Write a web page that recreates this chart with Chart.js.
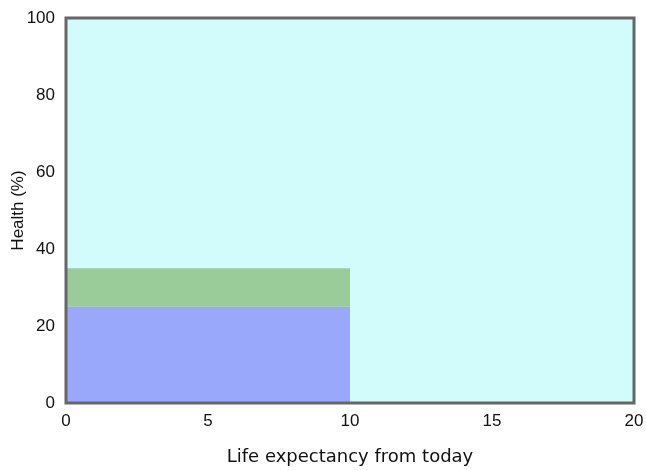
<!DOCTYPE html>
<html>
<head>
<meta charset="utf-8">
<script src="https://cdn.jsdelivr.net/npm/chart.js@4/dist/chart.umd.min.js"></script>
<style>
  html, body { margin: 0; padding: 0; background: #fff; }
  #wrap { width: 646px; height: 470px; }
</style>
</head>
<body>
<div id="wrap"><canvas id="myChart"></canvas></div>
<script>
// band edges along x (years), and health levels (%)
const xEdges = [0, 10];
const baseHealth = [25, 25];
const topHealth = [35, 35];
const xTicks = [0, 5, 10, 15, 20];
const yTicks = [0, 20, 40, 60, 80, 100];

function toPoints(xs, ys) {
  return xs.map((x, i) => ({ x: x, y: ys[i] }));
}

// paints the plot background and the box round it
const plotBox = {
  id: "plotBox",
  beforeDraw(chart) {
    const a = chart.chartArea;
    const c = chart.ctx;
    c.save();
    c.fillStyle = "#d2fcfc";
    c.fillRect(a.left, a.top, a.right - a.left, a.bottom - a.top);
    c.restore();
  },
  afterDraw(chart) {
    const a = chart.chartArea;
    const c = chart.ctx;
    c.save();
    c.strokeStyle = "#666666";
    c.lineWidth = 3;
    c.strokeRect(a.left, a.top, a.right - a.left, a.bottom - a.top);
    c.restore();
  },
};

let ctx = document.getElementById("myChart").getContext("2d");

let myChart = new Chart(ctx, {
  type: "line",
  data: {
    datasets: [
      {
        label: "base",
        data: toPoints(xEdges, baseHealth),
        backgroundColor: "#9aa8fb",
        borderWidth: 0,
        pointRadius: 0,
        fill: "origin",
      },
      {
        label: "top",
        data: toPoints(xEdges, topHealth),
        backgroundColor: "#99cc99",
        borderWidth: 0,
        pointRadius: 0,
        fill: "-1",
      },
    ],
  },
  options: {
    responsive: true,
    maintainAspectRatio: false,
    animation: false,
    layout: { padding: { left: 0, top: 18, right: 12, bottom: 0 } },
    plugins: {
      legend: { display: false },
      tooltip: { enabled: false },
    },
    scales: {
      x: {
        type: "linear",
        min: 0,
        max: 20,
        grid: { display: false, drawTicks: false },
        border: { display: false },
        afterBuildTicks: (s) => { s.ticks = xTicks.map((v) => ({ value: v })); },
        afterFit: (s) => {
          s.height = 67;
          s.paddingLeft = 0;
          s.paddingRight = 0;
        },
        ticks: {
          padding: 8,
          color: "#111",
          font: { family: "Liberation Sans", size: 17 },
        },
        title: {
          display: true,
          text: "Life expectancy from today",
          color: "#111",
          padding: { top: 0, bottom: 2 },
          font: { family: "DejaVu Sans", size: 18 },
        },
      },
      y: {
        min: 0,
        max: 100,
        grid: { display: false, drawTicks: false },
        border: { display: false },
        afterBuildTicks: (s) => { s.ticks = yTicks.map((v) => ({ value: v })); },
        afterFit: (s) => {
          s.width = 66;
          s.paddingTop = 0;
          s.paddingBottom = 0;
        },
        ticks: {
          padding: 11,
          color: "#111",
          font: { family: "Liberation Sans", size: 17 },
        },
        title: {
          display: true,
          text: "Health (%)",
          color: "#111",
          padding: { top: 8, bottom: 0 },
          font: { family: "Liberation Sans", size: 17 },
        },
      },
    },
  },
  plugins: [plotBox],
});
</script>
</body>
</html>
